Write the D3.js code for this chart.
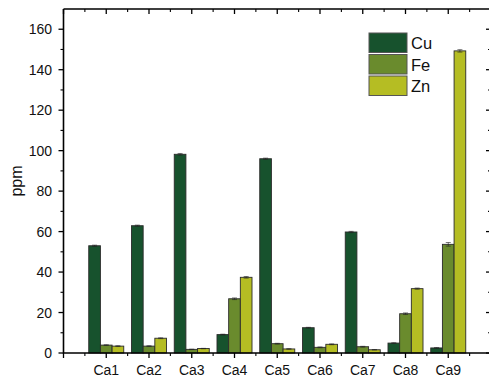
<!DOCTYPE html>
<html><head><meta charset="utf-8">
<script src="https://cdn.jsdelivr.net/npm/d3@7"></script>
<style>body{margin:0;background:#fff;}svg{display:block;font-family:"Liberation Sans",Arial,sans-serif;}</style>
</head><body>
<svg id="c" width="489" height="380"></svg>
<script>
const categories = ["Ca1","Ca2","Ca3","Ca4","Ca5","Ca6","Ca7","Ca8","Ca9"];
const seriesNames = ["Cu","Fe","Zn"];
const cuValues = [53, 62.9, 98.2, 9.1, 96.0, 12.5, 59.8, 4.9, 2.5];
const feValues = [3.9, 3.4, 1.8, 26.8, 4.6, 2.8, 3.1, 19.4, 53.7];
const znValues = [3.4, 7.3, 2.2, 37.4, 2.0, 4.3, 1.6, 31.8, 149.3];
const cuErr = [0.3, 0.3, 0.4, 0.2, 0.3, 0.2, 0.3, 0.2, 0.2];
const feErr = [0.2, 0.2, 0.1, 0.4, 0.2, 0.2, 0.2, 0.4, 0.9];
const znErr = [0.2, 0.2, 0.1, 0.4, 0.1, 0.2, 0.1, 0.3, 0.6];
const yTicks = [0, 20, 40, 60, 80, 100, 120, 140, 160];
const colors = ["#17522d", "#6a8b2d", "#b5bd23"];

const values = [cuValues, feValues, znValues];
const errs = [cuErr, feErr, znErr];

const svg = d3.select("#c");
const L = 63.5, T = 9, R = 491, B = 353;
const x = d3.scaleLinear().domain([0, 10]).range([L, R]);
const y = d3.scaleLinear().domain([0, 170]).range([B, T]);
const step = x(1) - x(0);
const barW = step * 0.273;

// bars
const g = svg.append("g");
categories.forEach((c, i) => {
  const cx = x(i + 1);
  values.forEach((vals, s) => {
    const x0 = cx - 1.5 * barW + s * barW;
    g.append("rect")
      .attr("x", x0).attr("y", y(vals[i]))
      .attr("width", barW).attr("height", y(0) - y(vals[i]))
      .attr("fill", colors[s]).attr("stroke", "#2b2b2b").attr("stroke-width", 0.9);
    const e = errs[s][i];
    const mx = x0 + barW / 2;
    g.append("path")
      .attr("d", `M${mx},${y(vals[i] + e)}V${y(vals[i] - e)}M${mx - 2.5},${y(vals[i] + e)}H${mx + 2.5}M${mx - 2.5},${y(vals[i] - e)}H${mx + 2.5}`)
      .attr("stroke", "#222").attr("stroke-width", 0.6).attr("fill", "none");
  });
});

// axes
const ax = svg.append("g").attr("stroke", "#000").attr("fill", "none");
ax.append("path").attr("d", `M${L},${T}V${B}H${R}V${T}H${L}`).attr("stroke-width", 1.6);

const yMinor = d3.range(10, 170, 20);
ax.selectAll(".yl").data(yTicks).join("line").attr("x1", L - 5).attr("x2", L).attr("y1", d => y(d)).attr("y2", d => y(d)).attr("stroke-width", 1.3);
ax.selectAll(".ylm").data(yMinor).join("line").attr("x1", L - 3).attr("x2", L).attr("y1", d => y(d)).attr("y2", d => y(d)).attr("stroke-width", 1.1);
ax.selectAll(".yr").data(yTicks).join("line").attr("x1", R - 5).attr("x2", R).attr("y1", d => y(d)).attr("y2", d => y(d)).attr("stroke-width", 1.3);
ax.selectAll(".yrm").data(yMinor).join("line").attr("x1", R - 3).attr("x2", R).attr("y1", d => y(d)).attr("y2", d => y(d)).attr("stroke-width", 1.1);
const xMajor = d3.range(0, 11);
const xMinor = d3.range(0.5, 10, 1);
ax.selectAll(".xb").data(xMajor).join("line").attr("x1", d => x(d)).attr("x2", d => x(d)).attr("y1", B).attr("y2", B + 5).attr("stroke-width", 1.3);
ax.selectAll(".xbm").data(xMinor).join("line").attr("x1", d => x(d)).attr("x2", d => x(d)).attr("y1", B).attr("y2", B + 3).attr("stroke-width", 1.1);
ax.selectAll(".xt").data(xMajor).join("line").attr("x1", d => x(d)).attr("x2", d => x(d)).attr("y1", T).attr("y2", T + 5).attr("stroke-width", 1.3);
ax.selectAll(".xtm").data(xMinor).join("line").attr("x1", d => x(d)).attr("x2", d => x(d)).attr("y1", T).attr("y2", T + 3).attr("stroke-width", 1.1);

// labels
svg.selectAll(".yt").data(yTicks).join("text")
  .attr("x", 52).attr("y", d => y(d) + 5).attr("text-anchor", "end")
  .attr("font-size", 14).attr("fill", "#111").text(d => d);
svg.selectAll(".xl").data(categories).join("text")
  .attr("x", (d, i) => x(i + 1)).attr("y", 375).attr("text-anchor", "middle")
  .attr("font-size", 14).attr("fill", "#111").text(d => d);
svg.append("text").attr("transform", "translate(22,181) rotate(-90)")
  .attr("text-anchor", "middle").attr("font-size", 16).attr("fill", "#111").text("ppm");

// legend
const lg = svg.append("g");
seriesNames.forEach((n, i) => {
  const yy = 33 + i * 21.5;
  lg.append("rect").attr("x", 369).attr("y", yy).attr("width", 38).attr("height", 19.5)
    .attr("fill", colors[i]).attr("stroke", "#555").attr("stroke-width", 1);
  lg.append("text").attr("x", 411).attr("y", yy + 16).attr("font-size", 16.5).attr("fill", "#111").text(n);
});
</script>
</body></html>
